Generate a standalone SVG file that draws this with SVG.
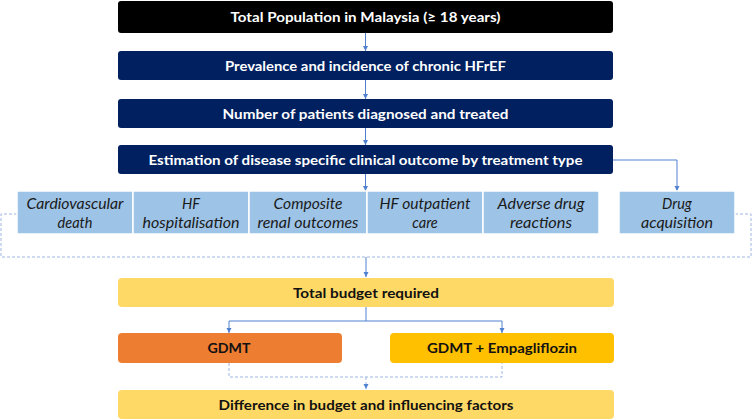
<svg xmlns="http://www.w3.org/2000/svg" width="752" height="420" viewBox="0 0 752 420">
<style>
.t{font-family:Lato,"Liberation Sans","DejaVu Sans",sans-serif;font-weight:bold;font-size:14px;text-anchor:middle}
.w{fill:#ffffff}
.k{fill:#111111}
.i{font-family:Lato,"Liberation Sans","DejaVu Sans",sans-serif;font-style:italic;font-size:14.5px;text-anchor:middle;fill:#1a1a1a}
.ob{fill:#9DC3E6;stroke:#ffffff;stroke-width:1.5}
.ln{fill:none;stroke:#4F81D0;stroke-width:1}
.ds{fill:none;stroke:#9DB5E0;stroke-width:1;stroke-dasharray:3 2}
</style>
<defs>
<marker id="ah" markerWidth="6" markerHeight="6" refX="5" refY="3" orient="auto" markerUnits="userSpaceOnUse">
<path d="M0,0.5 L5,3 L0,5.5 Z" fill="#4F81D0"/>
</marker>
</defs>
<rect width="752" height="420" fill="#ffffff"/>
<g id="connectors">
<path class="ds" d="M17,214 H1 V257 H751 V214 H735"/>
<path class="ds" d="M229,363 V377 H502 V363"/>
<path class="ds" d="M366,377 V389" marker-end="url(#ah)"/>
<path class="ln" d="M365.5,33 V51" marker-end="url(#ah)"/>
<path class="ln" d="M365.5,80 V99" marker-end="url(#ah)"/>
<path class="ln" d="M365.5,128 V145" marker-end="url(#ah)"/>
<path class="ln" d="M365.5,174 V191" marker-end="url(#ah)"/>
<path class="ln" d="M613,160 H677 V191" marker-end="url(#ah)"/>
<path class="ln" d="M366,257 V277" marker-end="url(#ah)"/>
<path class="ln" d="M366,307 V321"/>
<path class="ln" d="M229,321 H502"/>
<path class="ln" d="M229,321 V333" marker-end="url(#ah)"/>
<path class="ln" d="M502,321 V333" marker-end="url(#ah)"/>
</g>
<g id="total-population">
<rect x="118" y="1" width="495" height="32" rx="3" fill="#000000"/>
<text class="t w" x="365.5" y="22" textLength="270" lengthAdjust="spacingAndGlyphs">Total Population in Malaysia (≥ 18 years)</text>
</g>
<g id="prevalence">
<rect x="118" y="51" width="495" height="29" rx="3" fill="#002060"/>
<text class="t w" x="365.5" y="71" textLength="281" lengthAdjust="spacingAndGlyphs">Prevalence and incidence of chronic HFrEF</text>
</g>
<g id="patients">
<rect x="118" y="99" width="495" height="29" rx="3" fill="#002060"/>
<text class="t w" x="365.5" y="119" textLength="286" lengthAdjust="spacingAndGlyphs">Number of patients diagnosed and treated</text>
</g>
<g id="estimation">
<rect x="118" y="145" width="495" height="29" rx="3" fill="#002060"/>
<text class="t w" x="365.5" y="165" textLength="434" lengthAdjust="spacingAndGlyphs">Estimation of disease specific clinical outcome by treatment type</text>
</g>
<g id="cv-death">
<rect class="ob" x="17" y="191" width="116" height="43"/>
<text class="i" x="75" y="209" textLength="97" lengthAdjust="spacingAndGlyphs">Cardiovascular</text>
<text class="i" x="75" y="228">death</text>
</g>
<g id="hf-hosp">
<rect class="ob" x="133" y="191" width="116" height="43"/>
<text class="i" x="191" y="209">HF</text>
<text class="i" x="191" y="228" textLength="97" lengthAdjust="spacingAndGlyphs">hospitalisation</text>
</g>
<g id="renal">
<rect class="ob" x="249" y="191" width="118" height="43"/>
<text class="i" x="308" y="209" textLength="69" lengthAdjust="spacingAndGlyphs">Composite</text>
<text class="i" x="308" y="228" textLength="101" lengthAdjust="spacingAndGlyphs">renal outcomes</text>
</g>
<g id="hf-outpatient">
<rect class="ob" x="367" y="191" width="116" height="43"/>
<text class="i" x="425" y="209" textLength="91" lengthAdjust="spacingAndGlyphs">HF outpatient</text>
<text class="i" x="425" y="228">care</text>
</g>
<g id="adverse">
<rect class="ob" x="483" y="191" width="116" height="43"/>
<text class="i" x="541" y="209" textLength="87" lengthAdjust="spacingAndGlyphs">Adverse drug</text>
<text class="i" x="541" y="228" textLength="62" lengthAdjust="spacingAndGlyphs">reactions</text>
</g>
<g id="drug-acq">
<rect class="ob" x="619" y="191" width="116" height="43"/>
<text class="i" x="677" y="209">Drug</text>
<text class="i" x="677" y="228" textLength="72" lengthAdjust="spacingAndGlyphs">acquisition</text>
</g>
<g id="total-budget">
<rect x="118" y="278" width="496" height="29" rx="4" fill="#FFD966"/>
<text class="t k" x="366" y="298" textLength="146" lengthAdjust="spacingAndGlyphs">Total budget required</text>
</g>
<g id="gdmt">
<rect x="118" y="333" width="224" height="30" rx="4" fill="#ED7D31"/>
<text class="t k" x="229" y="353" textLength="43" lengthAdjust="spacingAndGlyphs">GDMT</text>
</g>
<g id="gdmt-empa">
<rect x="390" y="333" width="224" height="30" rx="4" fill="#FFC000"/>
<text class="t k" x="502" y="353" textLength="150" lengthAdjust="spacingAndGlyphs">GDMT + Empagliflozin</text>
</g>
<g id="difference">
<rect x="118" y="390" width="496" height="29" rx="4" fill="#FFD966"/>
<text class="t k" x="366" y="410" textLength="295" lengthAdjust="spacingAndGlyphs">Difference in budget and influencing factors</text>
</g>
</svg>
